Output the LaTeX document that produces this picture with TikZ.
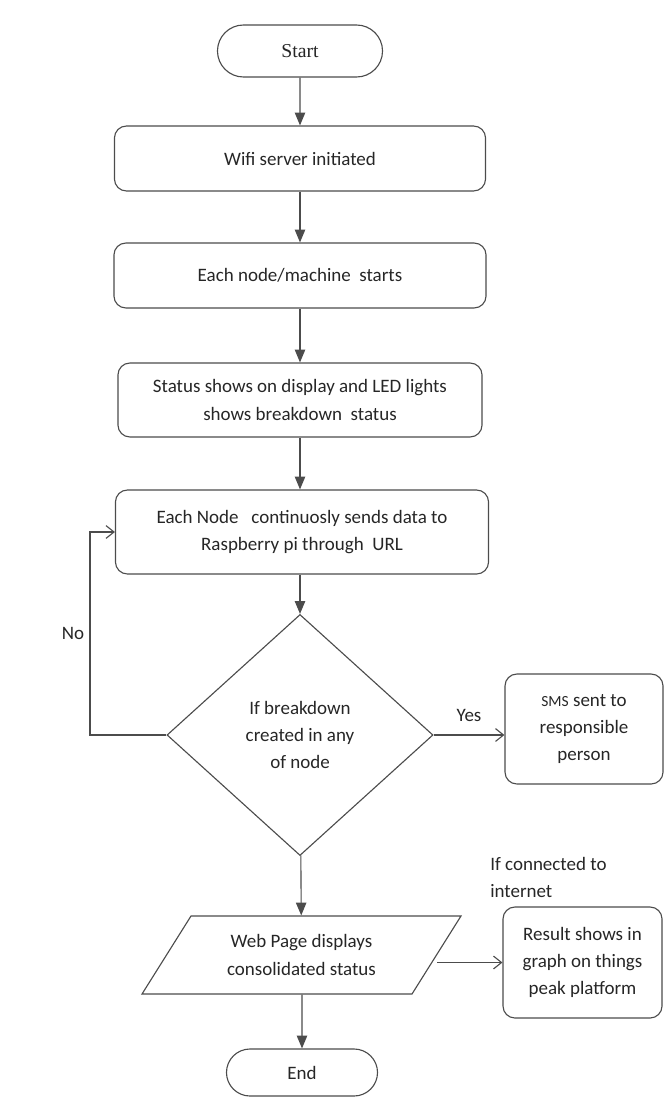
\documentclass[tikz,border=0pt]{standalone}
\usepackage{fontspec}
\setmainfont{Carlito}
\newfontfamily\timesfont{Liberation Serif}
\usepackage{tikz}
\usetikzlibrary{shapes,shapes.geometric,shapes.misc,arrows.meta,positioning,calc}

\begin{document}
\begin{tikzpicture}[
    x=0.025cm, y=-0.025cm,
    font=\fontsize{13.5}{19.5}\selectfont,
    every node/.style={text=black!85},
    line/.style={draw=black!70, line width=0.8pt},
    arr/.style={line, -{Triangle[length=0.32cm, width=0.26cm]}},
    openarr/.style={line, -{Straight Barb[length=0.2cm, width=0.32cm, line width=0.8pt]}},
    terminal/.style={rounded rectangle, line, align=center, inner sep=0pt},
    process/.style={rectangle, rounded corners=0.3cm, line, align=center, inner sep=0pt},
    decision/.style={diamond, line, align=center, inner sep=0pt, minimum width=6.65cm, minimum height=6.025cm},
    inout/.style={trapezium, trapezium left angle=51, trapezium right angle=129, trapezium stretches=true,
        line, align=center, inner sep=0pt, minimum width=7.975cm, minimum height=1.95cm}
]
\useasboundingbox (0,0) rectangle (664,1117);
% Main column
\node[terminal, minimum width=4.125cm, minimum height=1.3cm, font=\timesfont\fontsize{14}{16}\selectfont] (start) at (300,51) {Start};
\node[process, minimum width=9.275cm, minimum height=1.625cm] (wifi) at (300,158.5) {Wifi server initiated};
\node[process, minimum width=9.3cm, minimum height=1.625cm] (machine) at (300,275.5) {Each node/machine\ \ starts};
\node[process, minimum width=9.1cm, minimum height=1.85cm] (status) at (300,400)
    {Status shows on display and LED lights\\shows breakdown\ \ status};
\node[process, minimum width=9.325cm, minimum height=2.1cm] (send) at (302,532)
    {Each Node\ \ \ continuosly sends data to\\Raspberry pi through\ \ URL};
\node[decision] (check) at (300,735) {If breakdown\\created in any\\of node};
\node[inout] (web) at (301.5,955) {Web Page displays\\consolidated status};
\node[terminal, minimum width=3.775cm, minimum height=1.175cm] (end) at (302,1072.5) {End};
% Side boxes
\node[process, minimum width=3.95cm, minimum height=2.75cm] (sms) at (584,729)
    {{\fontsize{11}{12}\selectfont SMS} sent to\\responsible\\person};
\node[process, minimum width=3.975cm, minimum height=2.775cm] (result) at (582.5,962.5)
    {Result shows in\\graph on things\\peak platform};
\node[align=left, anchor=south west, inner sep=0pt] (online) at (490,898) {If connected to\\internet};
% Connectors
\draw[arr] (start) -- (wifi);
\draw[arr] (wifi) -- (machine);
\draw[arr] (machine) -- (status);
\draw[arr] (status.south) -- (status.south |- send.north);
\draw[arr] (send.south -| check.north) -- (check.north);
\draw[arr] (check) -- (web);
\draw[arr] (web.south -| end.north) -- (end);
\coordinate (loop) at (90,735);
\draw[openarr] (check.west) -- (loop) |- (send.west);
\node (no) at (73,633) {No};
\draw[openarr] (check.east) -- node[above=6pt] (yes) {Yes} (check.east -| sms.west);
\draw[openarr] (web.east |- result.west) -- (result.west);
\end{tikzpicture}
\end{document}
